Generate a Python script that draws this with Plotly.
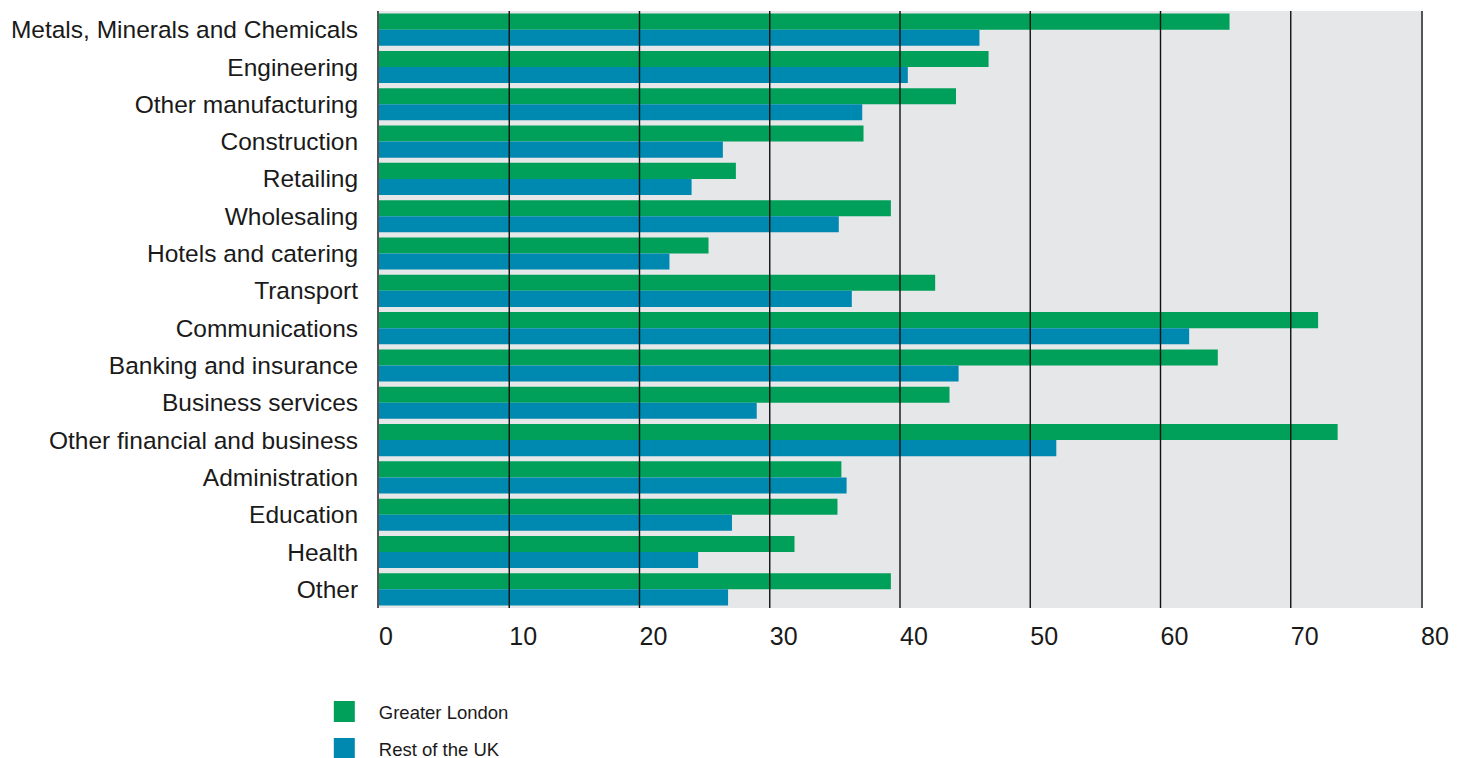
import plotly.graph_objects as go

# sectors, top to bottom
sectors = [
    "Metals, Minerals and Chemicals", "Engineering", "Other manufacturing",
    "Construction", "Retailing", "Wholesaling", "Hotels and catering",
    "Transport", "Communications", "Banking and insurance", "Business services",
    "Other financial and business", "Administration", "Education", "Health", "Other",
]

greater_london = [65.3, 46.8, 44.3, 37.2, 27.4, 39.3, 25.3, 42.7,
                  72.1, 64.4, 43.8, 73.6, 35.5, 35.2, 31.9, 39.3]
rest_of_uk = [46.1, 40.6, 37.1, 26.4, 24.0, 35.3, 22.3, 36.3,
              62.2, 44.5, 29.0, 52.0, 35.9, 27.1, 24.5, 26.8]

x_ticks = [0, 10, 20, 30, 40, 50, 60, 70, 80]

GREEN = "#00a05b"
BLUE = "#0089b0"
FONT = "Liberation Sans, Arial, Helvetica, sans-serif"

fig = go.Figure()
fig.add_trace(go.Bar(y=sectors, x=greater_london, orientation="h", name="Greater London",
                     marker=dict(color=GREEN, line_width=0), showlegend=False))
fig.add_trace(go.Bar(y=sectors, x=rest_of_uk, orientation="h", name="Rest of the UK",
                     marker=dict(color=BLUE, line_width=0), showlegend=False))

# legend entries with bigger square swatches
for name, col, grp in [("Greater London", GREEN, "a"), ("Rest of the UK", BLUE, "b")]:
    fig.add_trace(go.Scatter(x=[None], y=[None], mode="markers", name=name,
                             legendgroup=grp,
                             marker=dict(symbol="square", size=16, color=col,
                                         line=dict(color=col, width=7))))

# gridlines drawn over the bars
for t in x_ticks[1:-1]:
    fig.add_shape(type="line", xref="x", yref="paper", x0=t, x1=t, y0=0, y1=1,
                  line=dict(color="#111111", width=1.4), layer="above")

# page body has an 8px margin, so the figure is 8px smaller than the window
fig.update_layout(
    width=1458, height=750,
    margin=dict(l=371, r=45, t=3, b=150, autoexpand=False),
    paper_bgcolor="white",
    plot_bgcolor="#e6e7e8",
    barmode="group",
    bargap=0.14,
    bargroupgap=0,
    font=dict(family=FONT, color="#1a1a1a"),
    showlegend=True,
    legend=dict(
        xref="container", yref="container",
        x=0.207, xanchor="left", y=0.0867, yanchor="top",
        font=dict(size=18.5, color="#1a1a1a"),
        itemwidth=59,
        tracegroupgap=10, bgcolor="rgba(0,0,0,0)",
    ),
    xaxis=dict(
        range=[0, 80], tickvals=x_ticks, showgrid=False, zeroline=False,
        ticklabelposition="outside right", ticks="", ticklabelstandoff=11,
        tickfont=dict(size=25, color="#1a1a1a"), fixedrange=True,
    ),
    yaxis=dict(
        autorange="reversed", showgrid=False, ticks="",
        showline=True, mirror=True, linecolor="#555555", linewidth=2,
        ticklabelstandoff=14, tickfont=dict(size=24.5, color="#1a1a1a"),
    ),
)

fig.write_html("out.html")
